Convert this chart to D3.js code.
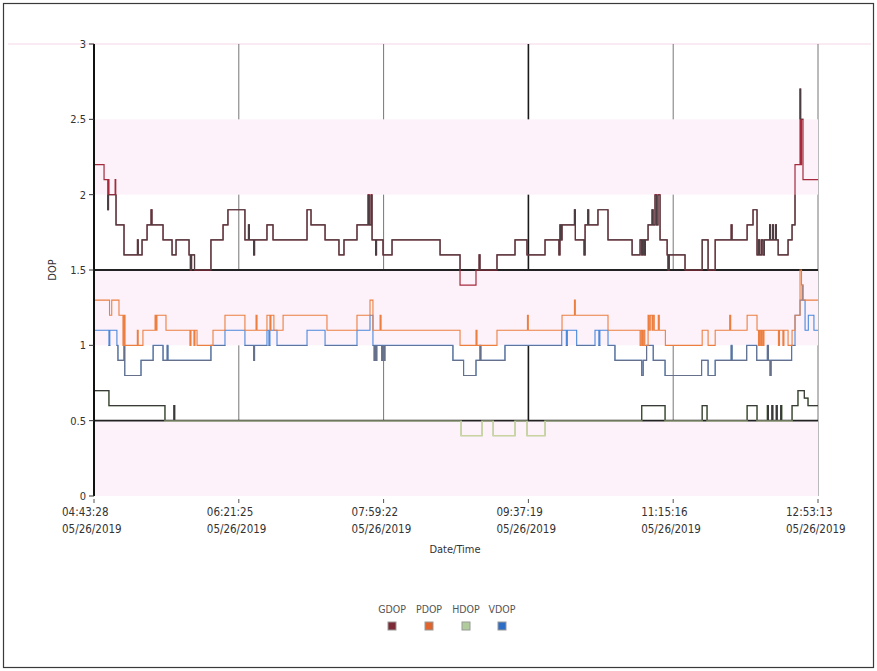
<!DOCTYPE html>
<html><head><meta charset="utf-8">
<script src="https://cdn.jsdelivr.net/npm/d3@7"></script>
<style>body{margin:0;background:#fff;}svg{display:block;}text{font-family:"DejaVu Sans Condensed","DejaVu Sans",sans-serif;}</style>
</head><body>
<svg id="c" width="877" height="671"></svg>
<script>
// time in minutes after 04:43:28, value = DOP (step series, value holds until next point)
const tickLabels = ["04:43:28","06:21:25","07:59:22","09:37:19","11:15:16","12:53:13"];
const tickDate = "05/26/2019";
const tickMinutes = [0, 97.95, 195.9, 293.85, 391.8, 489.75];
const yTicks = [0, 0.5, 1, 1.5, 2, 2.5, 3];
const yTickLabels = ["0","0.5","1","1.5","2","2.5","3"];
const seriesNames = ["GDOP","PDOP","HDOP","VDOP"];
const refLines = [1.5, 0.5];
const shadedBands = [[0,0.5],[1,1.5],[2,2.5]];
const plainBands = [[0.5,1],[1.5,2],[2.5,3]];

const gdop = [[0,2.2],[6.8,2.1],[9.3,1.9],[9.8,2.1],[10.1,2.0],[14.3,2.1],[14.7,2.0],[14.9,1.8],[20.3,1.6],[29.4,1.7],[29.9,1.6],[32.5,1.7],[35.9,1.8],[38.6,1.9],[39.2,1.8],[46.7,1.7],[52.8,1.6],[55.5,1.7],[64.3,1.6],[65.2,1.5],[66,1.6],[68,1.5],[79.1,1.7],[87.3,1.8],[90.6,1.9],[102.1,1.7],[104.5,1.8],[105.1,1.7],[108,1.6],[108.6,1.7],[117,1.8],[121.1,1.7],[144.1,1.9],[146.8,1.8],[156.3,1.7],[165.7,1.6],[169.1,1.7],[177.9,1.8],[185.4,2.0],[186.2,1.8],[187.4,2.0],[188.1,1.7],[190.5,1.6],[191.1,1.7],[195.5,1.6],[201.6,1.7],[234.1,1.6],[247.6,1.4],[258.4,1.5],[260.5,1.6],[261.1,1.5],[272.6,1.6],[284.8,1.7],[292.9,1.6],[305.1,1.7],[314.5,1.6],[315.2,1.8],[315.8,1.7],[316.6,1.8],[325,1.9],[325.6,1.7],[331.5,1.6],[332.2,1.8],[334,1.9],[334.6,1.8],[340.9,1.9],[347.7,1.7],[364,1.6],[369.4,1.7],[370.5,1.6],[371.3,1.7],[372.2,1.6],[373,1.7],[374.8,1.8],[377.5,1.9],[378.2,1.8],[379.5,2.0],[380.5,1.8],[381.5,2.0],[382.9,1.7],[387.7,1.6],[388.3,1.5],[389.1,1.6],[399.8,1.5],[411.4,1.7],[415.4,1.5],[420.2,1.7],[431,1.8],[431.6,1.7],[441.8,1.8],[445.8,1.9],[448.5,1.6],[449.5,1.7],[450.3,1.6],[451.5,1.7],[452.5,1.6],[453.5,1.7],[457,1.8],[457.6,1.7],[459,1.8],[459.6,1.7],[461,1.8],[461.6,1.7],[462.8,1.6],[469.5,1.7],[472.2,1.8],[474.2,2.2],[477.6,2.7],[478,2.2],[478.6,2.5],[479.6,2.1],[489.75,2.1]];

const pdop = [[0,1.3],[10.5,1.2],[12,1.3],[16.9,1.2],[19.6,1.0],[20.3,1.2],[21,1.0],[29.3,1.1],[29.9,1.0],[33.1,1.1],[41.3,1.2],[42,1.1],[42.6,1.2],[48.7,1.1],[64.9,1.0],[65.6,1.1],[67.6,1.0],[68.3,1.1],[69.7,1.0],[80.5,1.1],[88.6,1.2],[102.1,1.1],[109.6,1.2],[110.3,1.1],[117,1.2],[119,1.1],[119.7,1.2],[121.7,1.1],[127.9,1.2],[157.6,1.1],[177.9,1.2],[186.7,1.3],[188.7,1.1],[193.5,1.2],[194.2,1.1],[247.6,1.0],[258.4,1.1],[259.1,1.0],[272.6,1.1],[293.2,1.2],[293.8,1.1],[316.6,1.2],[325,1.3],[325.6,1.2],[347.7,1.1],[369.4,1.0],[370.2,1.1],[371,1.0],[371.8,1.1],[372.6,1.0],[374.8,1.2],[375.5,1.1],[376.3,1.2],[377.5,1.1],[378.2,1.2],[379,1.1],[381.7,1.2],[382.4,1.1],[386.5,1.0],[411.4,1.1],[415.4,1.0],[420.2,1.1],[430,1.2],[430.7,1.1],[441.8,1.2],[448.5,1.1],[449.5,1.0],[450.2,1.1],[451,1.0],[451.7,1.1],[452.5,1.0],[453.2,1.1],[463,1.0],[463.7,1.1],[466,1.0],[466.7,1.1],[469.5,1.0],[472.2,1.1],[474.2,1.2],[477.6,1.5],[478.6,1.4],[479.6,1.3],[489.75,1.3]];

const hdop = [[0,0.7],[10.1,0.6],[48,0.5],[54,0.6],[54.6,0.5],[248.3,0.4],[262.5,0.5],[270,0.4],[284.8,0.5],[292.9,0.4],[305.1,0.5],[370.5,0.6],[386.3,0.5],[411.4,0.6],[414.7,0.5],[441.8,0.6],[448.5,0.5],[455.5,0.6],[456.2,0.5],[458.5,0.6],[459.2,0.5],[461.5,0.6],[462.2,0.5],[464.5,0.6],[465.2,0.5],[472.2,0.6],[476.2,0.7],[480.5,0.65],[483,0.6],[489.75,0.6]];

const vdop = [[0,1.1],[10.1,1.0],[10.7,1.1],[15.5,1.0],[16.2,0.9],[20.3,1.0],[20.8,0.8],[31.8,0.9],[40,1.0],[46.7,0.9],[49.5,1.0],[50,0.9],[79.1,1.0],[88.6,1.1],[102.1,1.0],[108,0.9],[108.6,1.0],[117,1.1],[118.3,1.0],[119,1.1],[123.8,1.0],[144.1,1.1],[156.3,1.0],[177.9,1.1],[186.7,1.2],[188.7,1.0],[189.5,0.9],[190.1,1.0],[190.7,0.9],[191.3,1.0],[194.6,0.9],[195.2,1.0],[196.1,0.9],[196.8,1.0],[242.8,0.9],[250,0.8],[258.4,0.9],[261.1,1.0],[261.7,0.9],[278,1.0],[316.4,1.1],[319.5,1.0],[320.2,1.1],[326.5,1.0],[338.9,1.1],[341.5,1.0],[342.2,1.1],[347.7,1.0],[352.4,0.9],[370.5,0.8],[371.5,0.9],[373.8,1.0],[378.3,0.9],[386.3,0.8],[411,0.9],[415.4,0.8],[420.2,0.9],[431,1.0],[431.6,0.9],[441.5,1.0],[448.3,0.9],[455.5,1.0],[456.2,0.9],[457.3,0.8],[458,0.9],[471.9,1.0],[474.2,1.2],[477.6,1.3],[479,1.4],[479.6,1.3],[481,1.1],[483.2,1.2],[487,1.1],[489.75,1.1]];

const svg = d3.select("#c");
const W = 877, H = 671;
const x = d3.scaleLinear().domain([0, 489.75]).range([94, 818]);
const y = d3.scaleLinear().domain([0, 3]).range([496, 44]);

// outer frame
svg.append("rect").attr("x",3.5).attr("y",3.5).attr("width",W-7).attr("height",H-7)
  .attr("fill","#fff").attr("stroke","#3a3a3a").attr("stroke-width",1.2);
// pink line at top level extending across
svg.append("line").attr("x1",8).attr("x2",W-6).attr("y1",y(3)).attr("y2",y(3))
  .attr("stroke","#f4d6e8").attr("stroke-width",1.2);

// vertical gridlines
tickMinutes.slice(1).forEach((t,i)=>{
  const dark = i===2;
  svg.append("line").attr("x1",x(t)).attr("x2",x(t)).attr("y1",y(3)).attr("y2",y(0))
    .attr("stroke", dark ? "#1a1a1a" : "#777").attr("stroke-width", dark ? 1.6 : 1);
});

// shaded bands (cover gridlines)
shadedBands.forEach(b=>{
  svg.append("rect").attr("x",x(0)).attr("width",x(489.75)-x(0))
    .attr("y",y(b[1])).attr("height",y(b[0])-y(b[1])).attr("fill","#fdf2fa");
});

// clip for plain (white) bands
const defs = svg.append("defs");
const cp = defs.append("clipPath").attr("id","plain");
plainBands.forEach(b=>{
  cp.append("rect").attr("x",x(0)-2).attr("width",x(489.75)-x(0)+4)
    .attr("y",y(b[1])).attr("height",y(b[0])-y(b[1]));
});
const cs = defs.append("clipPath").attr("id","shaded");
shadedBands.forEach(b=>{
  cs.append("rect").attr("x",x(0)-2).attr("width",x(489.75)-x(0)+4)
    .attr("y",y(b[1])).attr("height",y(b[0])-y(b[1])-1.5);
});

// reference lines
refLines.forEach(v=>{
  svg.append("line").attr("x1",x(0)).attr("x2",x(489.75)).attr("y1",y(v)).attr("y2",y(v))
    .attr("stroke","#222").attr("stroke-width",1.8);
});

const line = d3.line().x(d=>x(d[0])).y(d=>y(d[1])).curve(d3.curveStepAfter);
function draw(data, color, dark, w){
  svg.append("path").datum(data).attr("d",line).attr("fill","none")
    .attr("stroke",color).attr("stroke-width",w);
  if (dark) svg.append("path").datum(data).attr("d",line).attr("fill","none")
    .attr("stroke",dark).attr("stroke-width",w).attr("clip-path","url(#plain)");
}
draw(hdop, "#8cbb70", "#3a3a3a", 1.2);
// faint look of HDOP dips below 0.5
svg.append("path").datum(hdop).attr("d",line).attr("fill","none")
  .attr("stroke","#d4d6a8").attr("stroke-width",1.2).attr("clip-path","url(#shaded)");
draw(vdop, "#4a88dc", "#66708a", 1.1);
draw(pdop, "#ec7f40", null, 1.1);
draw(gdop, "#a52a3c", "#4a3e42", 1.2);

// y axis
svg.append("line").attr("x1",94).attr("x2",94).attr("y1",y(3)).attr("y2",y(0))
  .attr("stroke","#111").attr("stroke-width",2);
yTicks.forEach((v,i)=>{
  svg.append("line").attr("x1",89).attr("x2",94).attr("y1",y(v)).attr("y2",y(v))
    .attr("stroke","#333").attr("stroke-width",1);
  svg.append("text").attr("x",86).attr("y",y(v)+4).attr("text-anchor","end")
    .attr("font-size",11).attr("fill","#333").text(yTickLabels[i]);
});
svg.append("text").attr("transform",`translate(56,${y(1.5)}) rotate(-90)`)
  .attr("text-anchor","middle").attr("font-size",11).attr("fill","#333").text("DOP");

// x ticks
tickMinutes.forEach((t,i)=>{
  const px = x(t);
  svg.append("line").attr("x1",px).attr("x2",px).attr("y1",499).attr("y2",503)
    .attr("stroke","#555").attr("stroke-width",1);
  svg.append("text").attr("x",px-32).attr("y",516).attr("font-size",11.5).attr("fill","#333").text(tickLabels[i]);
  svg.append("text").attr("x",px-32).attr("y",533).attr("font-size",11.5).attr("fill","#333").text(tickDate);
});
svg.append("text").attr("x",455).attr("y",553).attr("text-anchor","middle")
  .attr("font-size",11).attr("fill","#333").text("Date/Time");

// legend
const legendColors = ["#7c2a36","#e0652c","#b0cc9c","#2f6ec6"];
const legendX = [392, 429, 466, 502];
seriesNames.forEach((n,i)=>{
  svg.append("text").attr("x",legendX[i]).attr("y",613).attr("text-anchor","middle")
    .attr("font-size",10.5).attr("fill","#555").text(n);
  svg.append("rect").attr("x",legendX[i]-4).attr("y",622).attr("width",8).attr("height",8)
    .attr("fill",legendColors[i]).attr("stroke","#999").attr("stroke-width",1);
});
</script>
</body></html>
